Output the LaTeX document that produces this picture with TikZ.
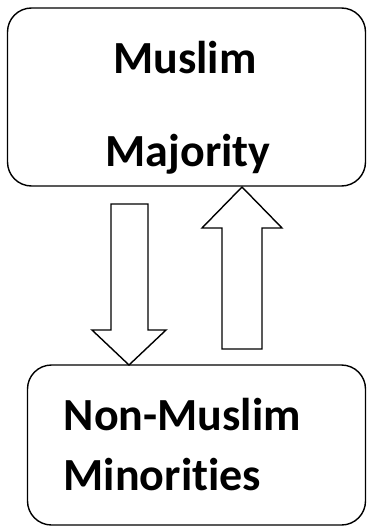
\documentclass[tikz,border=0pt]{standalone}
\usepackage{fontspec}
\setmainfont[Ligatures=NoCommon]{Carlito}
\usepackage{tikz}
\usetikzlibrary{positioning}

\begin{document}
\begin{tikzpicture}[x=1pt, y=-1pt, line width=1.4pt,
	box/.style={draw, rounded corners=24pt, inner sep=0pt},
	lbl/.style={inner sep=0pt, font=\fontsize{46}{50}\selectfont\bfseries}]
	\useasboundingbox (0,0) rectangle (367,527);
	% Boxes
	\node[box, minimum width=358pt, minimum height=178pt] (majbox) at (186.5,97) {};
	\node[box, minimum width=338pt, minimum height=160pt] (minbox) at (196.5,445) {};
	% Labels
	\node[lbl, anchor=base] (muslim) at (185,74) {Muslim};
	\node[lbl, anchor=base] (majority) at (188,166) {Majority};
	\node[lbl, anchor=base west] (nonmuslim) at (63,430) {Non-Muslim};
	\node[lbl, anchor=base west] (minorities) at (63,490) {Minorities};
	% Block arrows
	\draw[line join=miter] (111,204) -- (148,204) -- (148,330) -- (166,330) -- (129,365)
		-- (92,330) -- (111,330) -- cycle;
	\draw[line join=miter] (222,349) -- (262,349) -- (262,228) -- (282,228) -- (242,187)
		-- (202,228) -- (222,228) -- cycle;
\end{tikzpicture}
\end{document}
